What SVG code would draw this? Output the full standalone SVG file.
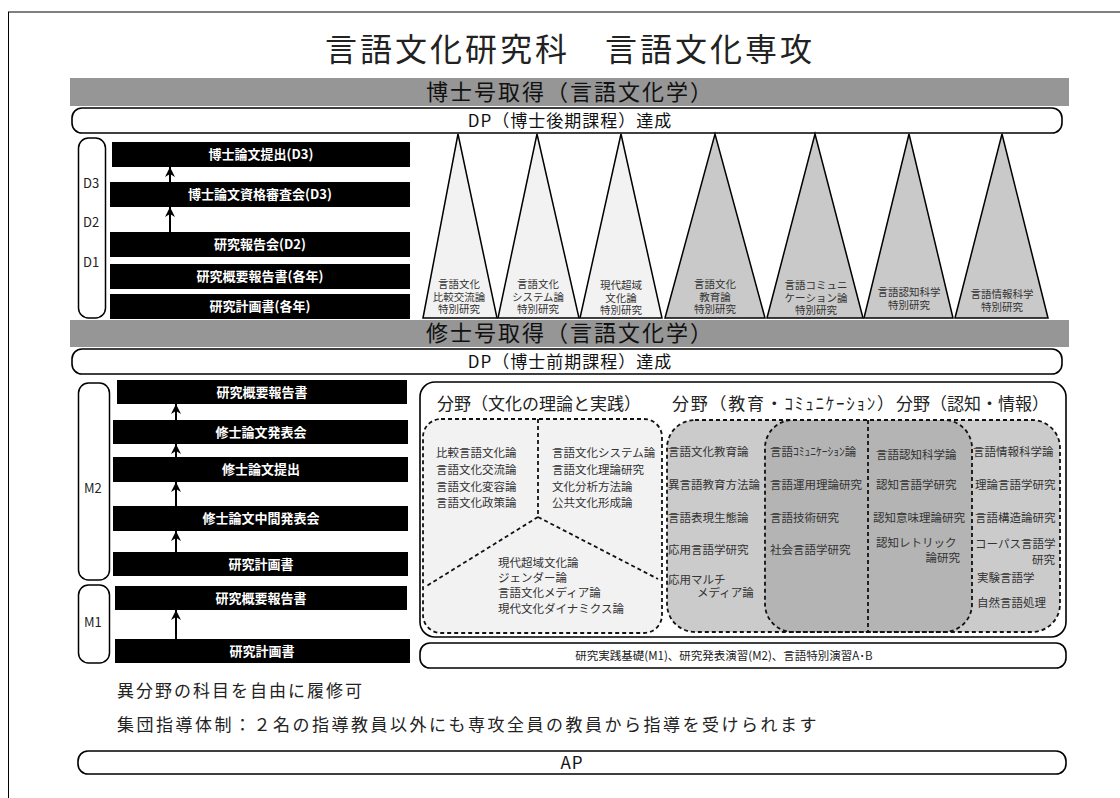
<svg xmlns="http://www.w3.org/2000/svg" width="1120" height="798" viewBox="0 0 1120 798">
<defs>
<marker id="ah" viewBox="0 0 10 10" refX="10" refY="5" markerWidth="10" markerHeight="10" markerUnits="userSpaceOnUse" orient="auto">
<path d="M0,0 L10,5 L0,10 L3,5 z" fill="#000"/>
</marker>
</defs>
<style>
text{font-family:"Noto Sans CJK JP","Noto Sans",sans-serif;fill:#222}
.bar{fill:#000}
.bt{font-size:13px;font-weight:bold;fill:#fff;text-anchor:middle}
.band{fill:#969696}
.bandt{font-size:22px;fill:#111;text-anchor:middle;letter-spacing:2px}
.pill{fill:#fff;stroke:#000;stroke-width:1.6}
.pillt{font-size:17px;fill:#111;text-anchor:middle;letter-spacing:1px}
.br{fill:#fff;stroke:#000;stroke-width:1.5}
.lbl{font-size:13px;fill:#222}
.tri1{fill:#f2f2f2;stroke:#000;stroke-width:1.5}
.tri2{fill:#c9c9c9;stroke:#000;stroke-width:1.5}
.tt{font-size:10.5px;fill:#333;text-anchor:middle}
.ft{font-size:11.5px;fill:#333}
.fh{font-size:17px;fill:#222}
.dash{stroke:#111;stroke-width:1.8;stroke-dasharray:4 3;fill:none}
.conn{stroke:#000;stroke-width:2;fill:none;marker-end:url(#ah)}
</style>
<g id="frame">
<line x1="8" y1="12" x2="1120" y2="12" stroke="#808080" stroke-width="2"/>
<line x1="8.5" y1="12" x2="8.5" y2="798" stroke="#000" stroke-width="1"/>
</g>
<g id="title"><text x="570" y="61" font-size="32" text-anchor="middle" letter-spacing="3" fill="#111">言語文化研究科　言語文化専攻</text></g>
<g id="doctor-band"><rect class="band" x="70" y="78" width="999" height="28"/><text class="bandt" x="570" y="100">博士号取得（言語文化学）</text></g>
<g id="dp-doctor"><rect class="pill" x="72" y="108" width="990" height="25" rx="10"/><text class="pillt" x="570" y="127">DP（博士後期課程）達成</text></g>
<g id="d-bracket"><rect class="br" x="78.5" y="138" width="27" height="180" rx="10"/>
<text class="lbl" x="83" y="188">D3</text><text class="lbl" x="83" y="227">D2</text><text class="lbl" x="83" y="267">D1</text></g>
<g id="d-bar1"><rect class="bar" x="112" y="142" width="298" height="25"/><text class="bt" x="261" y="159">博士論文提出(D3)</text></g>
<g id="d-bar2"><rect class="bar" x="110" y="182" width="300" height="25"/><text class="bt" x="260" y="199">博士論文資格審査会(D3)</text></g>
<g id="d-bar3"><rect class="bar" x="110" y="232" width="300" height="25"/><text class="bt" x="260" y="249">研究報告会(D2)</text></g>
<g id="d-bar4"><rect class="bar" x="110" y="264" width="300" height="25"/><text class="bt" x="260" y="281">研究概要報告書(各年)</text></g>
<g id="d-bar5"><rect class="bar" x="110" y="294" width="300" height="25"/><text class="bt" x="260" y="311">研究計画書(各年)</text></g>
<g id="tri-1"><polygon class="tri1" points="423,318 458,134 497,318"/><text class="tt"><tspan x="459" y="288">言語文化</tspan><tspan x="459" y="300.5">比較交流論</tspan><tspan x="459" y="313">特別研究</tspan></text></g>
<g id="tri-2"><polygon class="tri1" points="498,318 537,134 579,318"/><text class="tt"><tspan x="538" y="288">言語文化</tspan><tspan x="538" y="300.5">システム論</tspan><tspan x="538" y="313">特別研究</tspan></text></g>
<g id="tri-3"><polygon class="tri1" points="580,318 621,134 662,318"/><text class="tt"><tspan x="621" y="289">現代超域</tspan><tspan x="621" y="301.5">文化論</tspan><tspan x="621" y="314">特別研究</tspan></text></g>
<g id="tri-4"><polygon class="tri2" points="665,318 715,134 765,318"/><text class="tt"><tspan x="715" y="288">言語文化</tspan><tspan x="715" y="300.5">教育論</tspan><tspan x="715" y="313">特別研究</tspan></text></g>
<g id="tri-5"><polygon class="tri2" points="767,318 815,134 863,318"/><text class="tt"><tspan x="816" y="289">言語コミュニ</tspan><tspan x="816" y="301.5">ケーション論</tspan><tspan x="816" y="314">特別研究</tspan></text></g>
<g id="tri-6"><polygon class="tri2" points="864,318 909,134 953,318"/><text class="tt"><tspan x="909" y="296">言語認知科学</tspan><tspan x="909" y="308.5">特別研究</tspan></text></g>
<g id="tri-7"><polygon class="tri2" points="955,318 1002,134 1048,318"/><text class="tt"><tspan x="1002" y="298">言語情報科学</tspan><tspan x="1002" y="310.5">特別研究</tspan></text></g>
<g id="master-band"><rect class="band" x="70" y="320" width="999" height="27"/><text class="bandt" x="570" y="341">修士号取得（言語文化学）</text></g>
<g id="dp-master"><rect class="pill" x="72" y="349" width="990" height="25" rx="10"/><text class="pillt" x="570" y="368">DP（博士前期課程）達成</text></g>
<g id="m2-bracket"><rect class="br" x="78.5" y="383" width="31" height="197" rx="10"/><text class="lbl" x="84" y="493">M2</text></g>
<g id="m1-bracket"><rect class="br" x="78.5" y="585" width="31" height="78" rx="10"/><text class="lbl" x="84" y="627">M1</text></g>
<g id="m-bar1"><rect class="bar" x="117" y="380" width="290" height="24"/><text class="bt" x="262" y="397">研究概要報告書</text></g>
<g id="m-bar2"><rect class="bar" x="113" y="420" width="295" height="24"/><text class="bt" x="261" y="437">修士論文発表会</text></g>
<g id="m-bar3"><rect class="bar" x="113" y="457" width="295" height="25"/><text class="bt" x="261" y="474">修士論文提出</text></g>
<g id="m-bar4"><rect class="bar" x="113" y="506" width="295" height="25"/><text class="bt" x="261" y="523">修士論文中間発表会</text></g>
<g id="m-bar5"><rect class="bar" x="113" y="552" width="295" height="24"/><text class="bt" x="261" y="569">研究計画書</text></g>
<g id="m-bar6"><rect class="bar" x="115" y="586" width="292" height="24"/><text class="bt" x="261" y="603">研究概要報告書</text></g>
<g id="m-bar7"><rect class="bar" x="115" y="639" width="295" height="24"/><text class="bt" x="262" y="656">研究計画書</text></g>
<g id="fields">
<rect fill="#fff" stroke="#000" stroke-width="1.6" x="420" y="382" width="646" height="255" rx="15"/>
<text class="fh" x="437" y="410">分野（文化の理論と実践）</text>
<text class="fh" x="672" y="410" textLength="222" lengthAdjust="spacing">分野（教育・ｺﾐｭﾆｹｰｼｮﾝ）</text>
<text class="fh" x="896" y="410">分野（認知・情報）</text>
<g id="field-culture">
<rect x="423" y="419" width="239" height="214" rx="18" fill="#f2f2f2"/>
<rect class="dash" x="423" y="419" width="239" height="214" rx="18"/>
<polyline class="dash" points="538,419 538,517 425,587"/>
<line class="dash" x1="538" y1="517" x2="658" y2="579"/>
<text class="ft"><tspan x="436" y="457">比較言語文化論</tspan><tspan x="436" y="474">言語文化交流論</tspan><tspan x="436" y="491">言語文化変容論</tspan><tspan x="436" y="507">言語文化政策論</tspan></text>
<text class="ft"><tspan x="552" y="457">言語文化システム論</tspan><tspan x="552" y="474">言語文化理論研究</tspan><tspan x="552" y="491">文化分析方法論</tspan><tspan x="552" y="507">公共文化形成論</tspan></text>
<text class="ft"><tspan x="498" y="567">現代超域文化論</tspan><tspan x="498" y="582">ジェンダー論</tspan><tspan x="498" y="597">言語文化メディア論</tspan><tspan x="498" y="613">現代文化ダイナミクス論</tspan></text>
</g>
<g id="field-edu">
<rect x="667" y="420" width="305" height="212" rx="28" fill="#cbcbcb"/>
<rect x="765" y="420" width="295" height="212" rx="28" fill="#cbcbcb"/>
<rect x="765" y="420" width="207" height="212" rx="28" fill="#b4b4b4"/>
<rect class="dash" x="667" y="420" width="305" height="212" rx="28"/>
<rect class="dash" x="765" y="420" width="295" height="212" rx="28"/>
<line class="dash" x1="868" y1="420" x2="868" y2="632"/>
<text class="ft"><tspan x="668" y="456">言語文化教育論</tspan><tspan x="668" y="489">異言語教育方法論</tspan><tspan x="668" y="522">言語表現生態論</tspan><tspan x="668" y="554">応用言語学研究</tspan><tspan x="668" y="584">応用マルチ</tspan><tspan x="697" y="597">メディア論</tspan></text>
<text class="ft"><tspan x="770" y="456">言語ｺﾐｭﾆｹｰｼｮﾝ論</tspan><tspan x="770" y="489">言語運用理論研究</tspan><tspan x="770" y="522">言語技術研究</tspan><tspan x="770" y="554">社会言語学研究</tspan></text>
</g>
<g id="field-cog">
<text class="ft"><tspan x="876" y="459">言語認知科学論</tspan><tspan x="876" y="489">認知言語学研究</tspan><tspan x="873" y="522">認知意味理論研究</tspan><tspan x="876" y="547">認知レトリック</tspan><tspan x="960" y="562" text-anchor="end">論研究</tspan></text>
<text class="ft"><tspan x="973" y="456">言語情報科学論</tspan><tspan x="975" y="489">理論言語学研究</tspan><tspan x="975" y="522">言語構造論研究</tspan><tspan x="975" y="548">コーパス言語学</tspan><tspan x="1055" y="564" text-anchor="end">研究</tspan><tspan x="977" y="582">実験言語学</tspan><tspan x="977" y="607">自然言語処理</tspan></text>
</g>
</g>
<g id="seminars"><rect class="pill" x="420" y="643" width="646" height="25" rx="10"/><text x="724" y="660" font-size="11.5" text-anchor="middle" fill="#222">研究実践基礎(M1)、研究発表演習(M2)、言語特別演習A･B</text></g>
<g id="notes">
<text x="117" y="697" font-size="17" letter-spacing="2" fill="#111">異分野の科目を自由に履修可</text>
<text x="117" y="731" font-size="17" letter-spacing="2.5" fill="#111">集団指導体制：２名の指導教員以外にも専攻全員の教員から指導を受けられます</text>
</g>
<g id="ap"><rect class="pill" x="78" y="751" width="988" height="23" rx="10"/><text class="pillt" x="572" y="769">AP</text></g>
<g id="connectors">
<line class="conn" x1="170" y1="182" x2="170" y2="167"/>
<line class="conn" x1="170" y1="232" x2="170" y2="207"/>
<line class="conn" x1="176" y1="420" x2="176" y2="404"/>
<line class="conn" x1="176" y1="457" x2="176" y2="444"/>
<line class="conn" x1="176" y1="506" x2="176" y2="482"/>
<line class="conn" x1="176" y1="552" x2="176" y2="531"/>
<line class="conn" x1="176" y1="639" x2="176" y2="610"/>
</g>
</svg>
